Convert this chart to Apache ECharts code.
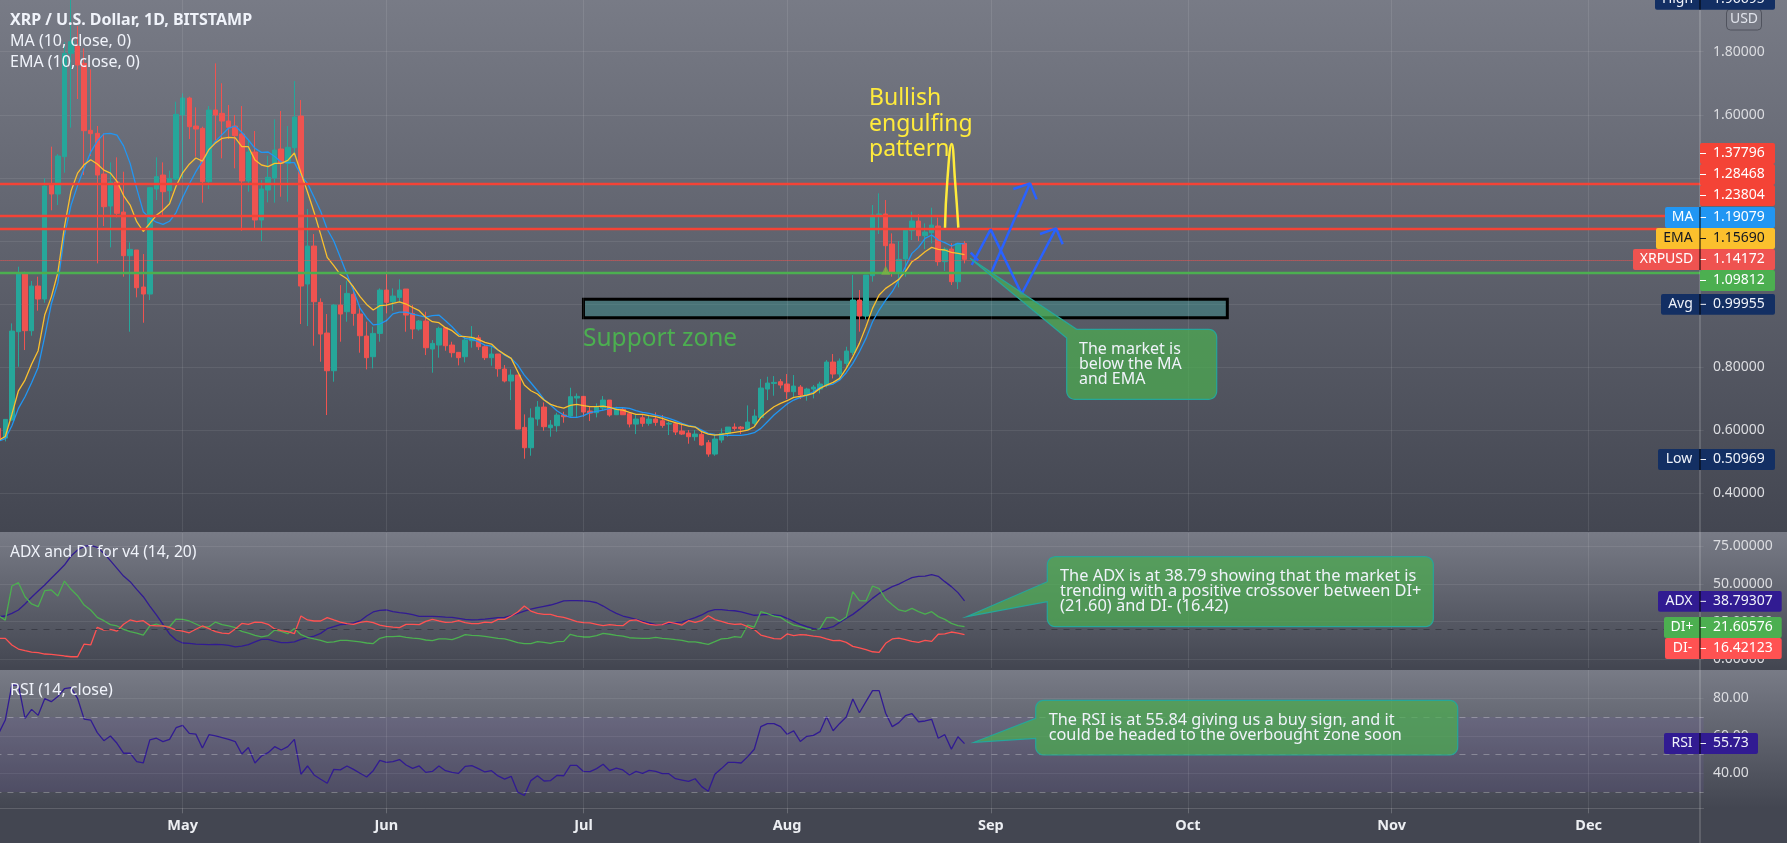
<!DOCTYPE html>
<html>
<head>
<meta charset="utf-8">
<title>XRP / U.S. Dollar</title>
<script src="https://cdn.jsdelivr.net/npm/echarts@6/dist/echarts.min.js"></script>
<style>
html, body { margin: 0; padding: 0; background: #434651; }
#main { width: 1787px; height: 843px; }
</style>
</head>
<body>
<div id="main"></div>
<script>
// daily candles, 3 Apr to 28 Aug
var opens = [
  .6058,.5751,.6322,.9123,1.0973,.9155,1.0571,1.0159,1.3773,1.3488,
  1.4672,1.7948,1.8181,1.7631,1.5507,1.5412,1.4122,1.3108,1.3868,1.2917,
  1.1533,1.1712,1.0540,1.0317,1.3647,1.4090,1.3594,1.3964,1.5993,1.6532,
  1.5644,1.5570,1.3879,1.6151,1.6046,1.5803,1.5644,1.5390,1.3900,1.4820,
  1.2664,1.3615,1.3995,1.4915,1.4460,1.4957,1.5961,1.0635,1.1839,1.0053,
  .9081,.7886,.9968,.9757,1.0307,.9683,.8985,.8330,.9070,1.0444,
  1.0074,1.0211,1.0476,.9704,.9207,.9461,.8573,.8700,.9250,.8700,
  .8468,.8330,.8837,.8933,.8647,.8299,.8415,.7939,.7559,.7749,
  .6090,.5445,.6354,.6734,.6079,.6143,.6481,.6449,.7020,.7073,
  .6608,.6555,.6703,.6956,.6491,.6660,.6523,.6195,.6396,.6217,
  .6354,.6301,.6195,.6206,.5974,.5910,.5794,.5868,.5603,.5244,
  .5688,.5889,.6100,.6100,.6026,.6217,.6407,.7305,.7485,.7538,
  .7464,.7221,.7368,.7115,.7305,.7305,.7421,.8161,.7781,.8119,
  .8468,1.0128,.9620,1.0899,1.2802,1.2854,1.1903,1.0973,1.1427,1.2326,
  1.2632,1.2167,1.2262,1.2473,1.1343,1.1744,1.0708,1.1924
];
var closes = [
  .5741,.6343,.9144,1.0973,.9155,1.0571,1.0159,1.3742,1.3488,1.4693,
  1.7948,1.8318,1.7578,1.5496,1.5401,1.4090,1.3086,1.3868,1.2875,1.1533,
  1.1733,1.0518,1.0317,1.3689,1.4038,1.3562,1.3985,1.6014,1.6532,1.5623,
  1.5549,1.3879,1.6151,1.5993,1.5803,1.5602,1.5338,1.3900,1.4820,1.2664,
  1.3647,1.4017,1.4883,1.4460,1.4968,1.5929,1.0571,1.1839,1.0074,.9049,
  .7886,.9968,.9683,1.0338,.9704,.8996,.8299,.9070,1.0444,1.0053,
  1.0254,1.0444,.9651,.9207,.9461,.8615,.8753,.9229,.8679,.8457,
  .8299,.8859,.8943,.8647,.8299,.8415,.7950,.7559,.7749,.6037,
  .5445,.6386,.6734,.6111,.6164,.6481,.6428,.7062,.7073,.6576,
  .6544,.6745,.6956,.6481,.6671,.6491,.6195,.6354,.6217,.6354,
  .6248,.6153,.6217,.5942,.5878,.5794,.5878,.5530,.5244,.5720,
  .5899,.6100,.6058,.6047,.6259,.6449,.7337,.7495,.7516,.7432,
  .7221,.7400,.7115,.7305,.7368,.7464,.8161,.7781,.8193,.8510,
  1.0128,.9620,1.0920,1.2823,1.2854,1.1850,1.0973,1.1417,1.2347,1.2632,
  1.2167,1.2283,1.2505,1.1343,1.1744,1.0708,1.1924,1.1417
];
var lows = [
  .5700,.5646,.6300,.8013,.8542,.8996,.9789,1.0042,1.2972,1.3139,
  1.4164,1.5591,1.6500,1.4090,1.4693,1.1290,1.2473,1.1797,1.2748,1.0867,
  .9123,1.0212,.9408,1.0127,1.3298,1.2769,1.3245,1.3932,1.3985,1.5232,
  1.4672,1.3213,1.3647,1.5200,1.4619,1.5232,1.4302,1.2325,1.3562,1.2368,
  1.1998,1.3224,1.3213,1.3403,1.3245,1.4672,.9366,.9303,.8679,.8172,
  .6481,.7538,.8806,.9440,.9313,.8457,.7929,.7960,.8806,.9704,
  .9789,1.0074,.9123,.8890,.9155,.8383,.7823,.8299,.8520,.8309,
  .8055,.8150,.8616,.8542,.8225,.8045,.7696,.7516,.6956,.6026,
  .5097,.5191,.6143,.5984,.5794,.5952,.6238,.6396,.6407,.6428,
  .6290,.6407,.6618,.6428,.6491,.6491,.6090,.5878,.6111,.6143,
  .6143,.6079,.5847,.5847,.5847,.5572,.5667,.5508,.5160,.5191,
  .5603,.5794,.5984,.5878,.6026,.6164,.6375,.6956,.7094,.7326,
  .6988,.7062,.6988,.6935,.7009,.7168,.7358,.7643,.7590,.7960,
  .8384,.9124,.9515,1.0709,1.2220,1.0973,1.0868,1.0529,1.0867,1.2030,
  1.2000,1.1744,1.1924,1.1216,1.1047,1.0603,1.0476,1.1290
];
var highs = [
  .6100,.6343,.9387,1.1184,1.1025,1.0730,1.0867,1.3985,1.4989,1.4756,
  1.8300,1.9669,1.8815,1.8107,1.7441,1.5644,1.5412,1.4492,1.4651,1.4196,
  1.1956,1.1712,1.1586,1.3700,1.4651,1.4492,1.4228,1.6415,1.6680,1.6574,
  1.6236,1.5623,1.6278,1.7631,1.7000,1.6310,1.5993,1.6278,1.5200,1.5486,
  1.3932,1.4700,1.5855,1.6120,1.5644,1.7071,1.6468,1.3012,1.2220,1.0180,
  .9683,1.0000,1.0602,1.0740,1.0550,.9915,.9440,.9281,1.0497,1.1025,
  1.0497,1.0783,1.0476,.9968,.9493,.9757,.8859,.9281,.9250,.8806,
  .8468,.8964,.9303,.9017,.8700,.8668,.8415,.8066,.7929,.7749,
  .6502,.6692,.6925,.6882,.6322,.6555,.6586,.7347,.7168,.7073,
  .6766,.6850,.7083,.6956,.6745,.6724,.6555,.6481,.6502,.6481,
  .6565,.6481,.6270,.6270,.6217,.6005,.6005,.6005,.5688,.5847,
  .6058,.6100,.6217,.6132,.6787,.6661,.7622,.7696,.7717,.7622,
  .7781,.7749,.7432,.7347,.7432,.7538,.8225,.8415,.8277,.8647,
  1.0920,1.0445,1.0920,1.3140,1.3510,1.3298,1.2241,1.2000,1.2347,1.2928,
  1.2843,1.2558,1.3055,1.2738,1.1800,1.1924,1.1945,1.1998
];
var maValues = [
  .5657,.5730,.6143,.6692,.7062,.7506,.7992,.8964,1.0000,1.0673,
  1.2180,1.3130,1.3755,1.4302,1.4815,1.5170,1.5395,1.5410,1.5355,1.5015,
  1.4460,1.3668,1.2928,1.2720,1.2595,1.2528,1.2625,1.2900,1.3380,1.3805,
  1.4195,1.4520,1.4880,1.5165,1.5370,1.5580,1.5644,1.5440,1.5200,1.4936,
  1.4810,1.4820,1.4680,1.4500,1.4483,1.4482,1.4090,1.3825,1.3385,1.2940,
  1.2370,1.2000,1.1475,1.0945,1.0430,.9863,.9567,.9340,.9366,.9472,
  .9690,.9746,.9746,.9680,.9630,.9588,.9630,.9651,.9472,.9281,
  .9049,.8911,.8880,.8806,.8700,.8668,.8542,.8383,.8277,.8066,
  .7749,.7506,.7252,.6977,.6798,.6608,.6481,.6407,.6407,.6460,
  .6555,.6597,.6639,.6692,.6713,.6713,.6692,.6618,.6565,.6534,
  .6481,.6428,.6375,.6301,.6217,.6143,.6111,.6005,.5899,.5868,
  .5847,.5836,.5836,.5836,.5868,.5921,.6058,.6270,.6481,.6660,
  .6829,.6956,.7041,.7115,.7220,.7358,.7421,.7464,.7590,.7823,
  .8119,.8489,.8911,.9440,.9810,1.0127,1.0391,1.0761,1.1184,1.1607,
  1.1797,1.2082,1.2188,1.2030,1.1945,1.1839,1.1924,1.1908
];
var emaValues = [
  .5680,.5800,.6500,.7250,.7590,.8090,.8520,.9650,1.0220,1.1000,
  1.2450,1.3580,1.4150,1.4420,1.4575,1.4440,1.4245,1.4150,1.3890,1.3440,
  1.3139,1.2611,1.2300,1.2560,1.2815,1.2975,1.3180,1.3740,1.4160,1.4435,
  1.4630,1.4530,1.4900,1.5110,1.5255,1.5285,1.5270,1.4989,1.4989,1.4566,
  1.4408,1.4355,1.4460,1.4460,1.4555,1.4790,1.4160,1.3550,1.2910,1.2210,
  1.1480,1.1220,1.0935,1.0800,1.0540,1.0233,.9989,.9810,.9947,.9968,
  1.0021,1.0070,1.0000,.9890,.9789,.9577,.9440,.9408,.9250,.9155,
  .8985,.8964,.8943,.8880,.8785,.8732,.8542,.8404,.8277,.7855,
  .7432,.7252,.7147,.6956,.6819,.6745,.6703,.6787,.6819,.6777,
  .6745,.6745,.6766,.6724,.6660,.6639,.6565,.6502,.6502,.6460,
  .6428,.6375,.6301,.6238,.6185,.6132,.6100,.5952,.5878,.5847,
  .5868,.5899,.5931,.5963,.6005,.6111,.6407,.6586,.6745,.6850,
  .6935,.7041,.7073,.7115,.7168,.7326,.7432,.7516,.7643,.7960,
  .8330,.8753,.9281,.9863,1.0286,1.0497,1.0634,1.0782,1.1026,1.1343,
  1.1480,1.1660,1.1797,1.1734,1.1713,1.1639,1.1607,1.1569
];
var adxValues = [
  28.3,28.7,30.5,32.7,36.7,41.1,45.3,49.3,53.7,58.1,62.5,68.5,72.5,74.9,75.6,74.2,70.3,65.4,60.3,55.2,
  51.5,46.4,41.5,35.3,29.4,23.2,16.8,12.8,10.8,10.6,10.1,9.9,9.7,9.9,9.7,9.3,8.2,8.8,9.7,11.5,
  13.2,13.2,12.1,11.0,11.0,11.5,13.2,14.3,15.4,17.2,20.3,21.6,23.0,23.4,24.1,25.4,28.7,31.4,32.5,32.7,
  31.6,30.9,30.5,29.6,28.5,28.5,28.5,28.3,28.0,27.8,27.2,26.5,26.1,26.3,26.7,27.2,27.6,27.8,28.9,30.5,
  32.0,33.3,34.2,35.1,36.0,37.3,38.7,38.9,38.9,38.7,38.4,37.5,35.3,32.7,30.5,28.7,27.6,26.5,25.2,24.1,
  23.0,23.2,23.8,24.3,24.7,26.1,27.6,29.4,31.8,32.9,32.9,32.5,32.2,31.4,30.3,29.2,29.4,29.8,29.4,28.9,
  27.2,25.2,23.2,21.6,20.3,20.1,20.5,21.6,24.5,27.2,29.8,33.1,36.7,40.4,43.7,45.9,48.2,49.9,52.1,54.1,
  55.0,55.2,56.1,55.0,51.5,48.2,44.2,38.8
];
var diPlusValues = [
  28.7,26.0,48.6,50.8,41.5,36.7,34.9,45.5,46.0,42.0,51.9,46.4,42.2,36.0,32.7,27.8,25.6,23.0,22.1,19.9,
  18.3,17.4,16.1,22.1,23.4,21.9,21.6,26.7,26.5,25.4,23.4,21.4,21.6,24.7,23.0,22.1,21.0,18.5,17.4,15.9,
  14.8,15.7,19.4,18.5,17.0,20.5,16.3,14.6,13.5,12.6,11.2,11.5,12.6,12.6,12.1,11.5,10.8,10.4,13.9,15.0,
  15.0,15.4,14.6,14.1,13.7,12.8,12.4,13.5,13.5,13.0,14.6,16.3,15.9,15.7,15.2,14.6,13.9,13.5,12.4,11.0,
  10.4,10.4,11.7,11.2,10.6,11.7,11.9,16.6,15.4,14.8,14.8,15.7,17.2,16.6,15.9,15.4,14.3,14.1,13.9,13.9,
  14.6,13.9,13.5,13.0,12.6,11.5,11.5,10.8,9.9,11.7,13.5,13.9,15.0,14.6,22.7,21.4,31.6,30.3,28.7,27.8,
  24.9,22.7,21.6,20.3,19.4,20.3,27.6,27.8,25.2,28.0,44.8,38.9,38.7,48.6,46.8,40.0,36.2,32.7,31.8,33.8,
  31.6,30.0,31.6,28.3,26.5,23.8,22.3,21.6
];
var diMinusValues = [
  13.9,13.9,9.5,6.8,5.7,4.8,4.4,3.5,3.3,2.8,2.2,1.7,1.7,10.1,9.5,21.2,19.4,19.9,18.7,23.2,
  26.1,25.0,25.6,22.5,22.1,22.1,21.2,19.4,18.7,17.6,19.9,22.1,20.3,18.3,17.4,17.0,20.1,23.8,23.2,24.7,
  24.5,23.2,20.1,19.0,18.3,17.0,28.7,26.1,25.4,25.4,27.6,26.1,24.7,23.6,23.2,24.5,25.2,24.3,22.7,21.9,
  21.4,21.0,23.2,23.2,23.0,25.2,26.5,25.4,24.5,24.7,25.6,24.3,23.6,23.6,24.7,24.3,26.5,26.5,28.7,31.4,
  35.3,32.0,30.5,29.8,29.8,28.5,27.8,26.5,25.0,24.3,24.1,23.2,22.3,23.0,22.5,22.3,25.6,26.1,24.5,23.2,
  22.7,23.0,24.7,23.8,22.7,25.6,24.5,25.6,28.9,26.3,25.2,23.8,23.2,23.4,21.6,19.7,16.1,14.8,13.7,13.5,
  16.8,15.7,16.3,16.1,15.4,14.8,13.5,12.4,12.6,11.2,8.6,7.5,6.4,5.0,4.6,10.6,13.5,14.1,13.0,11.9,
  11.2,12.6,11.9,16.6,16.8,18.1,17.4,16.4
];
var rsiValues = [
  61.3,68.4,87.1,87.1,69.3,74.1,70.9,79.8,78.2,80.9,85.1,85.7,80.0,68.9,68.4,61.7,57.4,59.9,56.0,50.7,
  50.8,46.2,45.5,57.8,58.7,56.9,58.1,64.3,65.6,61.3,60.9,53.5,60.6,59.9,59.0,58.1,56.9,50.3,53.8,45.5,
  49.2,51.0,54.2,52.4,54.2,58.1,39.5,43.9,39.1,36.8,34.7,42.1,41.8,43.9,42.1,40.0,38.0,41.4,46.9,45.8,
  46.2,47.3,44.4,42.6,43.9,40.5,41.0,43.9,41.4,40.5,40.0,43.7,44.1,42.5,40.7,41.4,38.6,36.9,38.4,29.9,
  28.2,36.1,38.7,35.9,36.1,38.9,38.7,44.2,44.2,41.0,40.9,42.5,44.8,41.4,42.8,41.8,39.1,41.0,40.0,41.6,
  41.0,39.8,39.8,37.1,36.4,35.7,37.1,32.9,30.4,39.5,42.5,45.8,45.8,45.5,48.9,52.8,64.9,66.5,66.5,64.9,
  60.8,62.6,57.0,59.7,60.2,62.2,70.2,62.7,66.6,70.0,79.6,72.3,78.2,84.1,84.1,72.0,64.9,67.0,70.7,71.8,
  67.5,67.9,68.8,58.7,60.6,52.9,59.5,55.8
];

var priceTicks = [0.4, 0.6, 0.8, 1.0, 1.2, 1.4, 1.6, 1.8];
var adxTicks = [0, 25, 50, 75];
var rsiTicks = [40, 60, 80];
var monthNames = ['Jan', 'Feb', 'Mar', 'Apr', 'May', 'Jun', 'Jul', 'Aug', 'Sep', 'Oct', 'Nov', 'Dec'];
var resistanceLevels = [1.37796, 1.28468, 1.23804];
var supportLevel = 1.09812;
var lastPrice = 1.14172;
var zonePrices = [0.9567, 1.0150];
var zoneDates = ['2021-07-01', '2021-10-07'];

// drawn on the chart by hand: [bar number, price]
var zigzagPath = [[148.09, 1.1237], [150.98, 1.2368], [155.70, 1.0318], [160.93, 1.2400]];
var zigzagHead = [[158.49, 1.2220], [160.93, 1.2400], [161.94, 1.1893]];
var risePath = [[151.13, 1.1026], [156.97, 1.3827]];
var riseHead = [[154.43, 1.3647], [156.97, 1.3827], [157.98, 1.3319]];
var crossPath = [[147.94, 1.1628], [149.10, 1.1375]];
var engulfArc = [[144.03, 1.2421], [144.39, 1.3932], [145.04, 1.5074], [145.55, 1.3932], [146.06, 1.2421]];

var dates = [];
for (var d = 0; d < 260; d++) {
    dates.push(new Date(Date.UTC(2021, 3, 3 + d)).toISOString().slice(0, 10));
}
var candles = opens.map(function (o, i) {
    return [o, closes[i], lows[i], highs[i]];
});
var monthStarts = dates.filter(function (v) { return v.slice(8) === '01'; });

function isMonthStart(i, value) {
    return value.slice(8) === '01';
}

var FONT = '"Noto Sans", sans-serif';
var gridLine = 'rgba(255,255,255,0.08)';
var paneLeft = -4.555, paneWidth = 1708.2;

var chart = echarts.init(document.getElementById('main'));

function paneBack(top, height) {
    return {
        type: 'rect', silent: true, z: -1,
        shape: { x: 0, y: top, width: 1787, height: height },
        style: { fill: new echarts.graphic.LinearGradient(0, 0, 0, 1, [
            { offset: 0, color: '#787b86' }, { offset: 1, color: '#434651' }
        ]) }
    };
}

function label(text, x, y, size, color, weight, align) {
    return {
        type: 'text', silent: true, z: 30,
        style: {
            text: text, x: x, y: y, fill: color, align: align || 'left', verticalAlign: 'middle',
            font: (weight || 'normal') + ' ' + size + 'px ' + FONT
        }
    };
}

// price tag on the right axis, with an optional name tag to the left of it
function tag(name, value, color, textColor, top, bottom, nameLeft, right) {
    var mid = (top + bottom) / 2;
    var els = [{
        type: 'rect', silent: true, z: 20,
        shape: { x: nameLeft || 1700, y: top, width: right - (nameLeft || 1700), height: bottom - top, r: 2 },
        style: { fill: color }
    }, label(value, 1713, mid, 14, textColor), {
        type: 'line', silent: true, z: 21,
        shape: { x1: 1700, y1: mid, x2: 1706, y2: mid },
        style: { stroke: textColor, lineWidth: 1 }
    }];
    if (name) {
        els.push(label(name, (nameLeft + 1700) / 2, mid, 14, textColor, 'normal', 'center'));
        els.push({
            type: 'line', silent: true, z: 21,
            shape: { x1: 1700, y1: top, x2: 1700, y2: bottom },
            style: { stroke: '#000', lineWidth: 1 }
        });
    }
    return els;
}

// rounded box plus its pointer as one outline
function calloutPoints(x0, y0, x1, y1, r, tip, a, b) {
    var pts = [a, tip, b];
    function arc(cx, cy, from) {
        for (var k = 0; k <= 6; k++) {
            var t = from + k / 6 * Math.PI / 2;
            pts.push([cx + r * Math.cos(t), cy + r * Math.sin(t)]);
        }
    }
    if (b[0] === x0) arc(x0 + r, y0 + r, Math.PI);
    arc(x1 - r, y0 + r, -Math.PI / 2);
    arc(x1 - r, y1 - r, 0);
    arc(x0 + r, y1 - r, Math.PI / 2);
    if (a[1] === y0 || a[0] === x0) pts.push([x0, a[1]]);
    return pts;
}

function callout(x0, y0, x1, y1, tip, a, b) {
    return {
        type: 'polygon', silent: true, z: 25,
        shape: { points: calloutPoints(x0, y0, x1, y1, 8, tip, a, b) },
        style: { fill: 'rgba(76,175,80,0.7)', stroke: '#26a69a', lineWidth: 1.2 }
    };
}

var graphics = [
    paneBack(0, 531), paneBack(532, 136), paneBack(670, 138),
    {
        type: 'rect', silent: true, z: -1,
        shape: { x: 0, y: 808, width: 1787, height: 35 }, style: { fill: '#434651' }
    },
    {
        type: 'line', silent: true, z: 15,
        shape: { x1: 1700, y1: 0, x2: 1700, y2: 843 },
        style: { stroke: 'rgba(255,255,255,0.3)', lineWidth: 1 }
    },
    {
        type: 'rect', silent: true, z: 20,
        shape: { x: 1726.5, y: 9, width: 35, height: 21, r: 4 },
        style: { fill: '#787b86', stroke: '#50535e', lineWidth: 1 }
    },
    label('USD', 1744, 19, 14, '#e0e3eb', 'normal', 'center'),
    label('XRP / U.S. Dollar, 1D, BITSTAMP', 10, 20, 16, '#f0f3fa', 'bold'),
    label('MA (10, close, 0)', 10, 41.5, 16, '#f0f3fa'),
    label('EMA (10, close, 0)', 10, 62.5, 16, '#f0f3fa'),
    label('ADX and DI for v4 (14, 20)', 10, 552.5, 15.6, '#f0f3fa'),
    label('RSI (14, close)', 10, 690.5, 16, '#f0f3fa'),
    label('Bullish', 869, 98, 23, '#ffeb3b'),
    label('engulfing', 869, 124, 23, '#ffeb3b'),
    label('pattern', 869, 149, 23, '#ffeb3b'),
    label('Support zone', 583, 339, 24.5, '#4caf50'),
    callout(1066.7, 329.3, 1216.7, 399.3, [970, 258.3], [1066.7, 338], [1076.7, 329.3]),
    label('The market is', 1079, 349, 16, '#f0f3fa'),
    label('below the MA', 1079, 364, 16, '#f0f3fa'),
    label('and EMA', 1079, 379, 16, '#f0f3fa'),
    callout(1047.3, 556.7, 1433.3, 626.7, [966.7, 616.7], [1047.3, 601.7], [1047.3, 581.7]),
    label('The ADX is at 38.79 showing that the market is', 1060, 576, 16.4, '#f0f3fa'),
    label('trending with a positive crossover between DI+', 1060, 591, 16.4, '#f0f3fa'),
    label('(21.60) and DI- (16.42)', 1060, 606, 16.4, '#f0f3fa'),
    callout(1035.7, 700.3, 1457.7, 755, [974, 742.3], [1035.7, 738.3], [1035.7, 718.3]),
    label('The RSI is at 55.84 giving us a buy sign, and it', 1048.7, 720.5, 16.3, '#f0f3fa'),
    label('could be headed to the overbought zone soon', 1048.7, 735.5, 16.3, '#f0f3fa')
].concat(
    tag('High', '1.96695', '#132f63', '#f0f3fa', -12, 9.7, 1655, 1775),
    tag(null, '1.37796', '#f44336', '#fff', 143, 164, null, 1775),
    tag(null, '1.28468', '#f44336', '#fff', 164, 185, null, 1775),
    tag(null, '1.23804', '#f44336', '#fff', 185, 206, null, 1775),
    tag('MA', '1.19079', '#2196f3', '#fff', 207, 228, 1665, 1775),
    tag('EMA', '1.15690', '#fbc02d', '#131722', 228, 249, 1656, 1775),
    tag('XRPUSD', '1.14172', '#ef5350', '#fff', 249, 270, 1633, 1775),
    tag(null, '1.09812', '#4caf50', '#fff', 270, 291, null, 1775),
    tag('Avg', '0.99955', '#132f63', '#f0f3fa', 294, 314.7, 1661, 1775),
    tag('Low', '0.50969', '#132f63', '#f0f3fa', 449, 470, 1658, 1775),
    tag('ADX', '38.79307', '#311b92', '#f0f3fa', 591, 611.7, 1658, 1781.7),
    tag('DI+', '21.60576', '#4caf50', '#fff', 617, 638, 1664, 1781.7),
    tag('DI-', '16.42123', '#ff5252', '#fff', 638, 659, 1665, 1781.7),
    tag('RSI', '55.73', '#311b92', '#f0f3fa', 733, 754, 1664, 1758)
);

function priceAxis(gridIndex, min, max, ticks, digits) {
    return {
        type: 'value', gridIndex: gridIndex, position: 'right', offset: -3.6,
        min: min, max: max, scale: true,
        axisLine: { show: false },
        axisTick: { show: false, customValues: ticks },
        splitLine: { show: true, lineStyle: { color: gridLine, width: 1 } },
        axisLabel: {
            customValues: ticks, margin: 13, color: '#dcdde1', fontSize: 14, fontFamily: FONT,
            formatter: function (v) { return Number(v).toFixed(digits); }
        }
    };
}

function timeAxis(gridIndex, showLabels) {
    return {
        type: 'category', gridIndex: gridIndex, data: dates,
        boundaryGap: true,
        axisLine: { show: showLabels, lineStyle: { color: 'rgba(255,255,255,0.15)' } },
        axisTick: { show: showLabels, alignWithLabel: true, interval: isMonthStart, length: 5, lineStyle: { color: 'rgba(255,255,255,0.2)' } },
        splitLine: { show: false },
        axisLabel: {
            show: showLabels, interval: isMonthStart, margin: 10,
            color: '#eceef2', fontSize: 14.5, fontWeight: 'bold', fontFamily: FONT,
            formatter: function (v) { return monthNames[parseInt(v.slice(5, 7), 10) - 1]; }
        }
    };
}

function lineSeries(name, x, y, values, color) {
    return {
        name: name, type: 'line', xAxisIndex: x, yAxisIndex: y, data: values,
        symbol: 'none', z: 4, silent: true,
        lineStyle: { color: color, width: 1.3 }
    };
}

function drawnPath(values, color, smooth) {
    return {
        type: 'line', xAxisIndex: 3, yAxisIndex: 0, data: values, symbol: 'none',
        smooth: !!smooth, z: 6, silent: true,
        lineStyle: { color: color, width: 2.5 }
    };
}

// month gridlines, centred on the first day of each month
function monthLines() {
    return monthStarts.map(function (v) {
        return { xAxis: v, lineStyle: { color: 'rgba(255,255,255,0.09)', width: 1, type: 'solid' } };
    });
}

var option = {
    animation: false,
    backgroundColor: '#434651',
    graphic: graphics,
    grid: [
        { left: paneLeft, width: paneWidth, top: 0, height: 531, outerBoundsMode: 'none' },
        { left: paneLeft, width: paneWidth, top: 533, height: 135, outerBoundsMode: 'none' },
        { left: paneLeft, width: paneWidth, top: 670, height: 138.3, outerBoundsMode: 'none' }
    ],
    xAxis: [
        timeAxis(0, false), timeAxis(1, false), timeAxis(2, true),
        { type: 'value', gridIndex: 0, position: 'top', show: false, min: -0.5, max: 259.5, splitLine: { show: false } }
    ],
    yAxis: [
        priceAxis(0, 0.2805, 1.9639, priceTicks, 5),
        priceAxis(1, -5.77, 83.75, adxTicks, 5),
        priceAxis(2, 21.33, 95.09, rsiTicks, 2)
    ],
    series: [
        {
            // carries the drawn levels and the support zone, under the candles
            type: 'line', xAxisIndex: 0, yAxisIndex: 0, data: closes, symbol: 'none', z: 1, silent: true,
            lineStyle: { opacity: 0 },
            markLine: {
                silent: true, symbol: 'none', label: { show: false }, animation: false,
                data: monthLines().concat(resistanceLevels.map(function (v) {
                    return { yAxis: v, lineStyle: { color: '#f44336', width: 2.3, type: 'solid' } };
                })).concat([
                    { yAxis: supportLevel, lineStyle: { color: '#4caf50', width: 2.3, type: 'solid' } },
                    { yAxis: lastPrice, lineStyle: { color: '#ef5350', width: 1, type: 'dotted' } }
                ])
            },
            markArea: {
                silent: true, animation: false,
                itemStyle: { color: 'rgba(38,166,154,0.3)', borderColor: '#000', borderWidth: 3 },
                data: [[{ xAxis: zoneDates[0], yAxis: zonePrices[1] }, { xAxis: zoneDates[1], yAxis: zonePrices[0] }]]
            }
        },
        {
            name: 'XRPUSD', type: 'candlestick', xAxisIndex: 0, yAxisIndex: 0, data: candles,
            barWidth: 5, z: 3, silent: true,
            itemStyle: { color: '#26a69a', color0: '#ef5350', borderColor: '#26a69a', borderColor0: '#ef5350', borderWidth: 1 }
        },
        lineSeries('MA', 0, 0, maValues, '#2196f3'),
        lineSeries('EMA', 0, 0, emaValues, '#fbc02d'),
        {
            type: 'scatter', xAxisIndex: 0, yAxisIndex: 0, data: [[dates[135], 1.1075]],
            symbol: 'triangle', symbolSize: 9, z: 5, silent: true, itemStyle: { color: '#7cb342' }
        },
        drawnPath(zigzagPath, '#2962ff'),
        drawnPath(zigzagHead, '#2962ff'),
        drawnPath(risePath, '#2962ff'),
        drawnPath(riseHead, '#2962ff'),
        drawnPath(crossPath, '#2962ff'),
        drawnPath(engulfArc, '#ffeb3b', true),
        Object.assign(lineSeries('ADX', 1, 1, adxValues, '#311b92'), {
            markLine: {
                silent: true, symbol: 'none', label: { show: false }, animation: false,
                data: monthLines().concat([{ yAxis: 20, lineStyle: { color: '#3a3c46', width: 1, type: [6, 6] } }])
            }
        }),
        lineSeries('DI+', 1, 1, diPlusValues, '#4caf50'),
        lineSeries('DI-', 1, 1, diMinusValues, '#ff5252'),
        Object.assign(lineSeries('RSI', 2, 2, rsiValues, '#311b92'), {
            markLine: {
                silent: true, symbol: 'none', label: { show: false }, animation: false,
                data: monthLines().concat([70, 50, 30].map(function (v) {
                    return { yAxis: v, lineStyle: { color: 'rgba(255,255,255,0.28)', width: 1, type: [6, 6] } };
                }))
            },
            markArea: {
                silent: true, animation: false,
                itemStyle: { color: 'rgba(126,87,194,0.12)' },
                data: [[{ yAxis: 70 }, { yAxis: 30 }]]
            }
        })
    ]
};
chart.setOption(option);
</script>
</body>
</html>
